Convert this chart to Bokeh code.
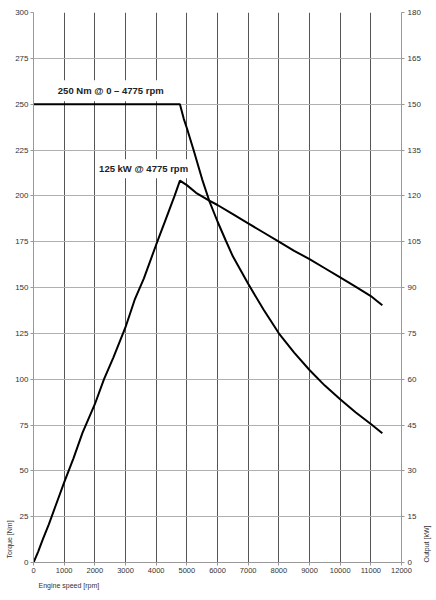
import math
from bokeh.plotting import figure
from bokeh.models import Range1d, LinearAxis, FixedTicker, Label, Title
from bokeh.embed import file_html
from bokeh.resources import INLINE

# ---- data ----
torque_rpm = [0, 4775, 4900, 5000, 5220, 5500, 5731, 6000, 6273, 6500, 7000,
              7500, 8000, 8500, 9000, 9500, 10000, 10500, 11000, 11375]
torque_nm = [250, 250, 242, 237, 225, 209, 197.3, 186, 175.5, 167, 152,
             138, 125, 114.5, 105, 96.5, 89, 82, 75.5, 70.5]

power_rpm = [0, 150, 300, 500, 700, 1000, 1300, 1600, 2000, 2300, 2600, 3000,
             3300, 3600, 4000, 4300, 4600, 4775, 5000, 5300, 5731, 6000, 6500,
             7000, 7500, 8000, 8500, 9000, 9500, 10000, 10500, 11000, 11200, 11375]
power_kw = [0, 3.5, 7.5, 12.5, 18, 26.2, 34, 42.5, 51.8, 60, 67, 77,
            86, 93, 104, 112, 120, 125, 123.5, 121, 118.4, 117, 114,
            111, 108, 105, 102, 99.3, 96.3, 93.3, 90.3, 87.2, 85.6, 84.2]

x_ticks = [0, 1000, 2000, 3000, 4000, 5000, 6000, 7000, 8000, 9000, 10000, 11000, 12000]
torque_ticks = [0, 25, 50, 75, 100, 125, 150, 175, 200, 225, 250, 275, 300]
power_ticks = [0, 15, 30, 45, 60, 75, 90, 105, 120, 135, 150, 165, 180]

label_torque = "250 Nm @ 0 – 4775 rpm"
label_power = "125 kW @ 4775 rpm"
x_title = "Engine speed [rpm]"
y_title = "Torque [Nm]"
y2_title = "Output [kW]"

FONT = "Liberation Sans"

p = figure(width=436, height=600, output_backend="svg", toolbar_location=None,
           x_range=Range1d(0, 12000), y_range=Range1d(0, 300),
           min_border_left=33, min_border_right=33, min_border_top=12,
           min_border_bottom=38)
p.extra_y_ranges = {"kw": Range1d(0, 180)}
p.outline_line_color = None
p.background_fill_color = "white"
p.border_fill_color = "white"

# grids
p.xgrid.ticker = FixedTicker(ticks=x_ticks[1:-1])
p.xgrid.grid_line_color = "#555555"
p.xgrid.grid_line_width = 1
p.ygrid.ticker = FixedTicker(ticks=torque_ticks)
p.ygrid.grid_line_color = "#b0b0b0"
p.ygrid.grid_line_width = 1

def style_axis(ax, size):
    ax.axis_line_color = "#999999"
    ax.major_tick_line_color = "#999999"
    ax.major_tick_out = 3
    ax.major_tick_in = 0
    ax.minor_tick_line_color = None
    ax.major_label_text_font = FONT
    ax.major_label_text_font_size = size
    ax.major_label_text_color = "#333333"
    ax.major_label_standoff = 2
    ax.axis_label_text_font = FONT
    ax.axis_label_text_font_size = "7px"
    ax.axis_label_text_font_style = "normal"
    ax.axis_label_text_color = "#333333"

xa = p.xaxis[0]
xa.ticker = FixedTicker(ticks=x_ticks)
style_axis(xa, "7.5px")

ya = p.yaxis[0]
ya.ticker = FixedTicker(ticks=torque_ticks)
style_axis(ya, "8px")

ra = LinearAxis(y_range_name="kw", ticker=FixedTicker(ticks=power_ticks))
style_axis(ra, "8px")
ra.major_label_standoff = 3
ra.axis_label = y2_title
ra.axis_label_orientation = math.pi / 2
ra.axis_label_standoff = 3
ra.axis_label_align = "start"
p.add_layout(ra, "right")

# axis titles as side titles
tx = Title(text=x_title, align="left", offset=5, standoff=8,
           text_font=FONT, text_font_size="7px", text_font_style="normal",
           text_color="#333333")
p.add_layout(tx, "below")
ty = Title(text=y_title, align="left", offset=4, standoff=0,
           text_font=FONT, text_font_size="7px", text_font_style="normal",
           text_color="#333333")
p.add_layout(ty, "left")

# curves
p.line(torque_rpm, torque_nm, line_color="black", line_width=2)
p.line(power_rpm, power_kw, y_range_name="kw", line_color="black", line_width=2)

# annotations
l1 = Label(x=2520, y=257.3, text=label_torque, text_align="center",
           text_baseline="middle", text_font=FONT, text_font_size="9.5px",
           text_font_style="bold", text_color="#222222",
           background_fill_color="white", padding=5)
l2 = Label(x=3590, y=214.8, text=label_power, text_align="center",
           text_baseline="middle", text_font=FONT, text_font_size="9.5px",
           text_font_style="bold", text_color="#222222",
           background_fill_color="white", padding=4)
p.add_layout(l1)
p.add_layout(l2)

open("out.html", "w").write(file_html(p, INLINE))
